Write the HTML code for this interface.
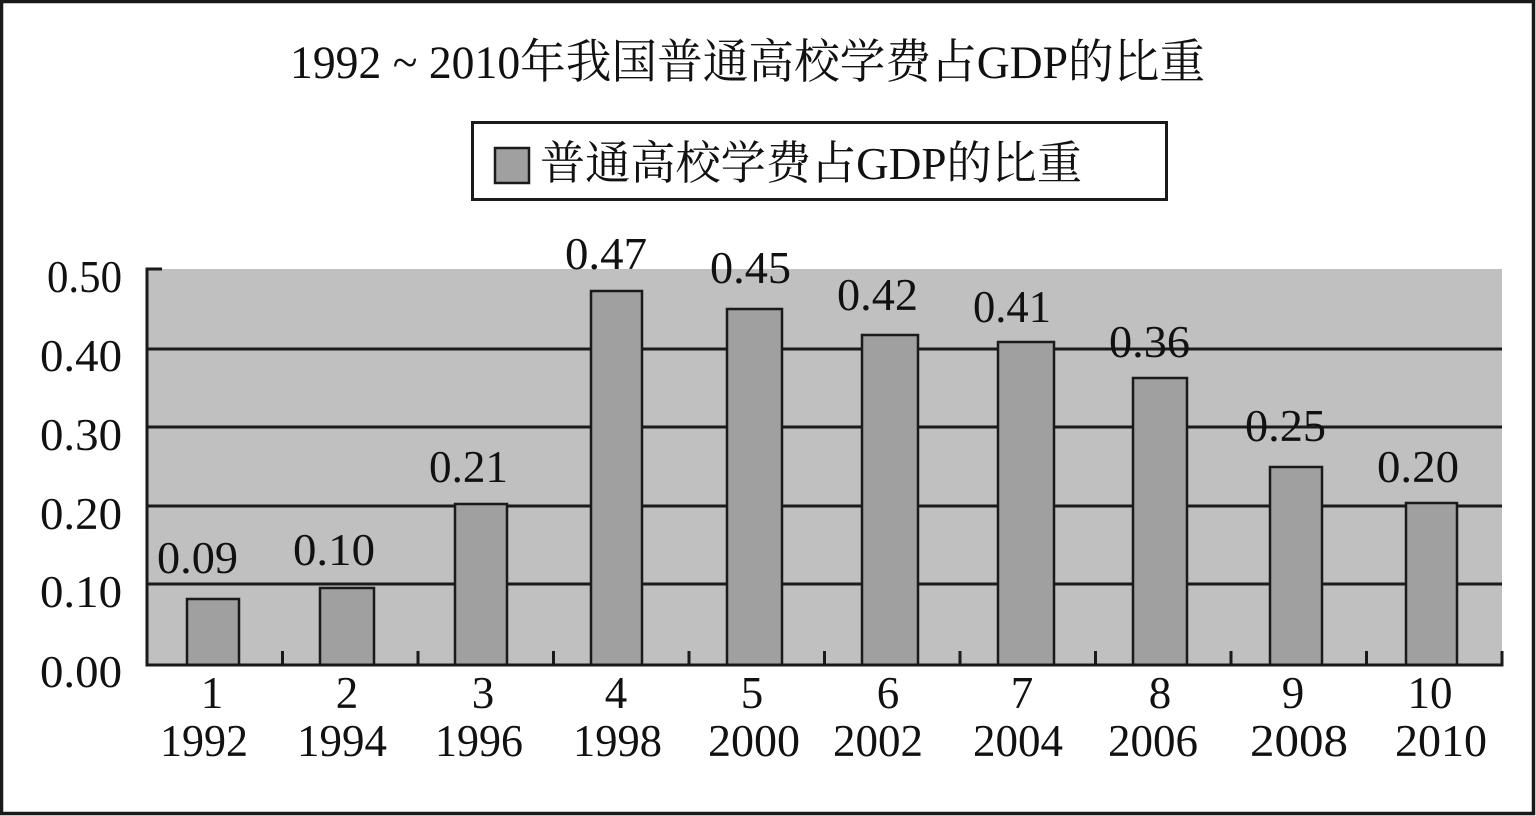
<!DOCTYPE html>
<html>
<head>
<meta charset="utf-8">
<style>
  html, body { margin:0; padding:0; background:#fff; }
  body { width:1536px; height:816px; overflow:hidden; }
  svg { display:block; }
  .t { font-family: "Liberation Serif", "Noto Serif CJK SC", serif; fill:#111; }
</style>
</head>
<body>
<svg width="1536" height="816" viewBox="0 0 1536 816" xmlns="http://www.w3.org/2000/svg">
  <rect x="0" y="0" width="1536" height="816" fill="#fff"/>
  <!-- outer border -->
  <rect x="1.5" y="1.5" width="1532" height="812" fill="none" stroke="#1a1a1a" stroke-width="3.5"/>

  <!-- title -->
  <text class="t" x="290" y="78" font-size="47" textLength="915" lengthAdjust="spacingAndGlyphs">1992 ~ 2010年我国普通高校学费占GDP的比重</text>

  <!-- legend -->
  <rect x="472.5" y="122.5" width="694" height="77" fill="#fff" stroke="#1a1a1a" stroke-width="3"/>
  <rect x="495" y="148" width="34" height="35" fill="#a0a0a0" stroke="#1a1a1a" stroke-width="2.5"/>
  <text class="t" x="540" y="179" font-size="46" textLength="542" lengthAdjust="spacingAndGlyphs">普通高校学费占GDP的比重</text>

  <!-- plot area -->
  <rect x="147" y="269" width="1355" height="396" fill="#c0c0c0"/>
  <g stroke="#1a1a1a" stroke-width="3">
    <line x1="147" y1="349" x2="1502" y2="349"/>
    <line x1="147" y1="427" x2="1502" y2="427"/>
    <line x1="147" y1="506" x2="1502" y2="506"/>
    <line x1="147" y1="584" x2="1502" y2="584"/>
  </g>

  <!-- bars -->
  <g fill="#a0a0a0" stroke="#1a1a1a" stroke-width="2.5">
    <rect x="187" y="599" width="52" height="66"/>
    <rect x="320" y="588" width="54" height="77"/>
    <rect x="455" y="504" width="52" height="161"/>
    <rect x="591" y="291" width="51" height="374"/>
    <rect x="727" y="309" width="55" height="356"/>
    <rect x="862" y="335" width="56" height="330"/>
    <rect x="998" y="342" width="56" height="323"/>
    <rect x="1133" y="378" width="54" height="287"/>
    <rect x="1270" y="467" width="52" height="198"/>
    <rect x="1406" y="503" width="51" height="162"/>
  </g>

  <!-- axes -->
  <g stroke="#1a1a1a" stroke-width="3" fill="none">
    <line x1="147" y1="267.5" x2="147" y2="666.5"/>
    <line x1="145.5" y1="665" x2="1503.5" y2="665"/>
    <line x1="147" y1="269" x2="162" y2="269"/>
    <line x1="282.5" y1="665" x2="282.5" y2="651"/>
    <line x1="418" y1="665" x2="418" y2="651"/>
    <line x1="553.5" y1="665" x2="553.5" y2="651"/>
    <line x1="689" y1="665" x2="689" y2="651"/>
    <line x1="824.5" y1="665" x2="824.5" y2="651"/>
    <line x1="960" y1="665" x2="960" y2="651"/>
    <line x1="1095.5" y1="665" x2="1095.5" y2="651"/>
    <line x1="1231" y1="665" x2="1231" y2="651"/>
    <line x1="1366.5" y1="665" x2="1366.5" y2="651"/>
    <line x1="1502" y1="665" x2="1502" y2="651"/>
  </g>

  <!-- data labels -->
  <g class="t" font-size="45">
    <text class="t" x="157" y="573" textLength="81" lengthAdjust="spacingAndGlyphs">0.09</text>
    <text class="t" x="293" y="565" textLength="82" lengthAdjust="spacingAndGlyphs">0.10</text>
    <text class="t" x="429" y="482" textLength="79" lengthAdjust="spacingAndGlyphs">0.21</text>
    <text class="t" x="565" y="269" textLength="82" lengthAdjust="spacingAndGlyphs">0.47</text>
    <text class="t" x="710" y="283" textLength="81" lengthAdjust="spacingAndGlyphs">0.45</text>
    <text class="t" x="837" y="310" textLength="81" lengthAdjust="spacingAndGlyphs">0.42</text>
    <text class="t" x="973" y="322" textLength="78" lengthAdjust="spacingAndGlyphs">0.41</text>
    <text class="t" x="1109" y="357" textLength="81" lengthAdjust="spacingAndGlyphs">0.36</text>
    <text class="t" x="1245" y="441" textLength="81" lengthAdjust="spacingAndGlyphs">0.25</text>
    <text class="t" x="1377" y="482" textLength="82" lengthAdjust="spacingAndGlyphs">0.20</text>
  </g>

  <!-- y axis labels -->
  <g class="t" font-size="45">
    <text class="t" x="47" y="292" textLength="75" lengthAdjust="spacingAndGlyphs">0.50</text>
    <text class="t" x="40" y="371" textLength="82" lengthAdjust="spacingAndGlyphs">0.40</text>
    <text class="t" x="40" y="450" textLength="82" lengthAdjust="spacingAndGlyphs">0.30</text>
    <text class="t" x="40" y="529" textLength="82" lengthAdjust="spacingAndGlyphs">0.20</text>
    <text class="t" x="40" y="607" textLength="82" lengthAdjust="spacingAndGlyphs">0.10</text>
    <text class="t" x="40" y="687" textLength="82" lengthAdjust="spacingAndGlyphs">0.00</text>
  </g>

  <!-- x axis labels -->
  <g class="t" font-size="45" text-anchor="middle">
    <text class="t" x="212" y="708">1</text>
    <text class="t" x="347" y="708">2</text>
    <text class="t" x="483" y="708">3</text>
    <text class="t" x="616" y="708">4</text>
    <text class="t" x="752" y="708">5</text>
    <text class="t" x="888" y="708">6</text>
    <text class="t" x="1022" y="708">7</text>
    <text class="t" x="1160" y="708">8</text>
    <text class="t" x="1293" y="708">9</text>
    <text class="t" x="1430" y="708">10</text>
  </g>
  <g class="t" font-size="45">
    <text class="t" x="160" y="756" textLength="88" lengthAdjust="spacingAndGlyphs">1992</text>
    <text class="t" x="297" y="756" textLength="90" lengthAdjust="spacingAndGlyphs">1994</text>
    <text class="t" x="435" y="756" textLength="88" lengthAdjust="spacingAndGlyphs">1996</text>
    <text class="t" x="573" y="756" textLength="89" lengthAdjust="spacingAndGlyphs">1998</text>
    <text class="t" x="708" y="756" textLength="92" lengthAdjust="spacingAndGlyphs">2000</text>
    <text class="t" x="833" y="756" textLength="90" lengthAdjust="spacingAndGlyphs">2002</text>
    <text class="t" x="973" y="756" textLength="90" lengthAdjust="spacingAndGlyphs">2004</text>
    <text class="t" x="1108" y="756" textLength="90" lengthAdjust="spacingAndGlyphs">2006</text>
    <text class="t" x="1250" y="756" textLength="98" lengthAdjust="spacingAndGlyphs">2008</text>
    <text class="t" x="1395" y="756" textLength="92" lengthAdjust="spacingAndGlyphs">2010</text>
  </g>
</svg>
</body>
</html>
